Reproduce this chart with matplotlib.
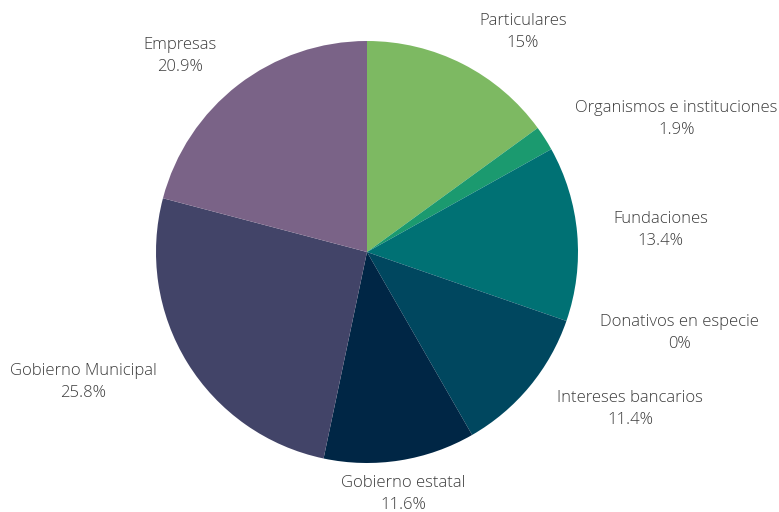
import matplotlib.pyplot as plt
import numpy as np

plt.rcParams['font.family'] = ['Open Sans', 'DejaVu Sans']

categories = ['Particulares', 'Organismos e instituciones', 'Fundaciones',
              'Donativos en especie', 'Intereses bancarios', 'Gobierno estatal',
              'Gobierno Municipal', 'Empresas']
shares = [15, 1.9, 13.4, 0, 11.4, 11.6, 25.8, 20.9]
colors = ['#7db962', '#1b9a6f', '#007174', '#005a6a', '#00475f', '#002645',
          '#424468', '#7a6387']

labels = [f"{c}\n{v:g}%" for c, v in zip(categories, shares)]

fig = plt.figure(figsize=(7.79, 5.12), dpi=100)
# pie radius = 211 px, centre at (367, 260) px from bottom-left
R = 211
xr, yr = 2.0, 1.3
ax = fig.add_axes([(367 - xr * R) / 779, (260 - yr * R) / 512,
                   2 * xr * R / 779, 2 * yr * R / 512])

wedges, texts = ax.pie(shares, labels=labels, colors=colors, startangle=90,
                       counterclock=False, labeldistance=1.17,
                       wedgeprops={'linewidth': 0},
                       textprops={'fontsize': 12, 'color': '#3c3c3c',
                                  'fontweight': 'light',
                                  'linespacing': 1.5,
                                  'multialignment': 'center'})
for t in texts:
    x, y = t.get_position()
    if abs(x) < 0.3:
        # bottom label sits centred under its slice
        t.set_horizontalalignment('center')
        t.set_position((x - 0.01, y + 0.01))

ax.set_xlim(-xr, xr)
ax.set_ylim(-yr, yr)
ax.set_aspect('equal')
ax.axis('off')

fig.savefig('out.png', dpi=100)
